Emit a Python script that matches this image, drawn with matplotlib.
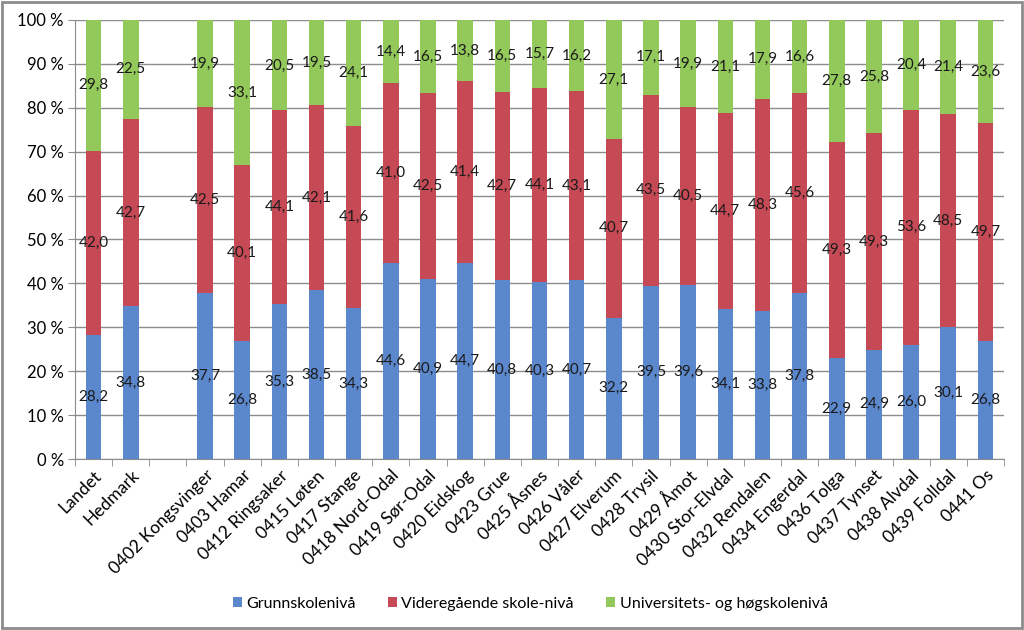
import numpy as np
import matplotlib.pyplot as plt
from matplotlib.patches import Rectangle

plt.rcParams['font.family'] = ['Lato', 'DejaVu Sans']

kommuner = ['Landet', 'Hedmark', '', '0402 Kongsvinger', '0403 Hamar', '0412 Ringsaker',
            '0415 Løten', '0417 Stange', '0418 Nord-Odal', '0419 Sør-Odal', '0420 Eidskog',
            '0423 Grue', '0425 Åsnes', '0426 Våler', '0427 Elverum', '0428 Trysil',
            '0429 Åmot', '0430 Stor-Elvdal', '0432 Rendalen', '0434 Engerdal',
            '0436 Tolga', '0437 Tynset', '0438 Alvdal', '0439 Folldal', '0441 Os']

grunnskole = [28.2, 34.8, np.nan, 37.7, 26.8, 35.3, 38.5, 34.3, 44.6, 40.9, 44.7, 40.8,
              40.3, 40.7, 32.2, 39.5, 39.6, 34.1, 33.8, 37.8, 22.9, 24.9, 26.0, 30.1, 26.8]
videregaende = [42.0, 42.7, np.nan, 42.5, 40.1, 44.1, 42.1, 41.6, 41.0, 42.5, 41.4, 42.7,
                44.1, 43.1, 40.7, 43.5, 40.5, 44.7, 48.3, 45.6, 49.3, 49.3, 53.6, 48.5, 49.7]
hoyskole = [29.8, 22.5, np.nan, 19.9, 33.1, 20.5, 19.5, 24.1, 14.4, 16.5, 13.8, 16.5,
            15.7, 16.2, 27.1, 17.1, 19.9, 21.1, 17.9, 16.6, 27.8, 25.8, 20.4, 21.4, 23.6]

serier = ['Grunnskolenivå', 'Videregående skole-nivå', 'Universitets- og høgskolenivå']
farger = ['#5B87CC', '#C54A55', '#92C95A']

fig = plt.figure(figsize=(10.24, 6.3), dpi=100)
ax = fig.add_axes([0.0732, 0.2714, 0.9073, 0.6969])

x = np.arange(len(kommuner))
bunn = np.zeros(len(kommuner))
for verdier, navn, farge in zip([grunnskole, videregaende, hoyskole], serier, farger):
    v = np.array(verdier)
    cont = ax.bar(x, np.nan_to_num(v), bottom=bunn, width=0.42, color=farge, label=navn, zorder=3)
    tekster = ['' if np.isnan(t) else f'{t:.1f}'.replace('.', ',') for t in v]
    ax.bar_label(cont, labels=tekster, label_type='center', fontsize=11, color='#1a1a1a', zorder=4)
    bunn += np.nan_to_num(v)

ax.set_xlim(-0.5, len(kommuner) - 0.5)
ax.set_ylim(0, 100)
ax.set_yticks(np.arange(0, 101, 10))
ax.set_yticklabels([f'{t} %' for t in range(0, 101, 10)], fontsize=12)
ax.yaxis.grid(True, color='#8c8c8c', linewidth=1, zorder=0)

ax.set_xticks(x)
ax.set_xticklabels(kommuner, rotation=45, ha='right', rotation_mode='anchor', fontsize=12.5)
ax.set_xticks(np.arange(-0.5, len(kommuner)), minor=True)
ax.tick_params(axis='x', which='major', length=0, pad=6)
ax.tick_params(axis='x', which='minor', length=5, color='#8c8c8c')
ax.tick_params(axis='y', length=5, color='#8c8c8c', pad=3)

for s in ['top', 'right']:
    ax.spines[s].set_visible(False)
for s in ['left', 'bottom']:
    ax.spines[s].set_color('#8c8c8c')

ax.legend(loc='center', bbox_to_anchor=(0.49, -0.33), ncol=3, frameon=False, fontsize=11.5,
          handlelength=0.55, handleheight=0.55, handletextpad=0.3, columnspacing=2.0)

fig.patches.append(Rectangle((0.002, 0.003), 0.996, 0.994, transform=fig.transFigure,
                             fill=False, edgecolor='#8c8c8c', linewidth=2))

fig.savefig('out.png', dpi=100)
